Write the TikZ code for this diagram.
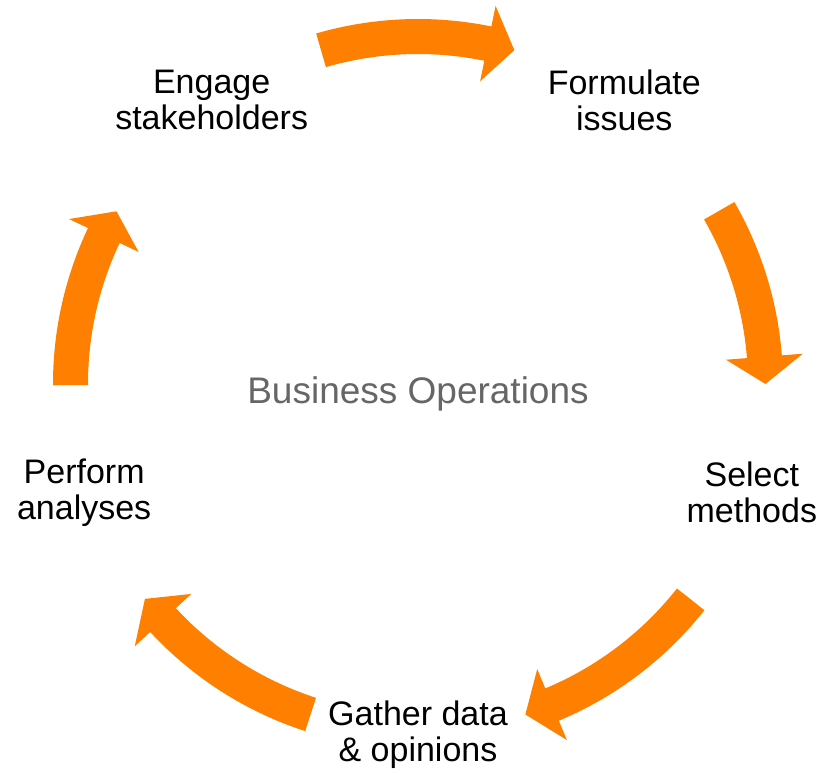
\documentclass[tikz,border=0pt]{standalone}
\usepackage{fontspec}
\setmainfont{Liberation Sans}
\usepackage{tikz}

\definecolor{cycleorange}{RGB}{255,128,0}
\definecolor{hubgray}{RGB}{102,102,102}

\tikzset{
  steplabel/.style={align=center, text=black,
                    font=\fontsize{34}{36}\selectfont},
  hublabel/.style={text=hubgray, font=\fontsize{37}{40}\selectfont},
  cyclearrow/.style={fill=cycleorange, draw=none}
}

\begin{document}
\begin{tikzpicture}[x=1pt, y=1pt]
  \useasboundingbox (-418,-389) rectangle (405,384);

  \node[hublabel, anchor=base] (hub) at (0,-20) {Business Operations};

  % steps sit on the corners of a pentagon
  \node[steplabel] (engage)    at (126:351) {Engage\\stakeholders};
  \node[steplabel] (formulate) at (54:351)  {Formulate\\issues};
  \node[steplabel] (select)    at (-18:351) {Select\\methods};
  \node[steplabel] (gather)    at (-90:351) {Gather data\\\& opinions};
  \node[steplabel] (perform)   at (198:351) {Perform\\analyses};

  % block arrows on the ring: tail angle / head base / tip
  \foreach \tail/\base/\tip in {106.2/78.4/73.9, 29.9/4.5/0, -38.3/-67.3/-72,
                                252/222.8/218.2, 180.2/154.7/150.2}
    \fill[cyclearrow] (\tail:365) arc[start angle=\tail, end angle=\base, radius=365]
      -- (\base:386) -- (\tip:347.5) -- (\base:309) -- (\base:330)
      arc[start angle=\base, end angle=\tail, radius=330] -- cycle;
\end{tikzpicture}
\end{document}
